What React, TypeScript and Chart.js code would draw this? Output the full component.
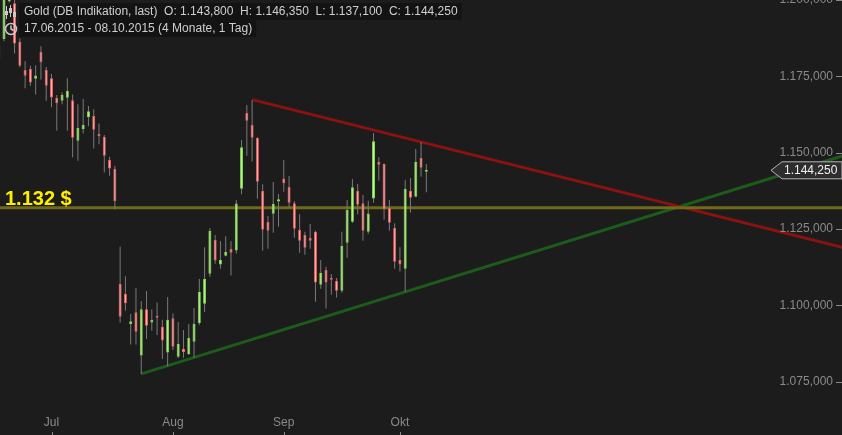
import React, { useEffect, useRef } from 'react';
import { Chart, registerables } from 'chart.js';

Chart.register(...registerables);

// ---- data (trading days 17.06.2015 - 08.10.2015) ----
const dates = [
  '17.06', '18.06', '19.06', '22.06', '23.06', '24.06', '25.06', '26.06', '29.06', '30.06',
  '01.07', '02.07', '03.07', '06.07', '07.07', '08.07', '09.07', '10.07', '13.07', '14.07',
  '15.07', '16.07', '17.07', '20.07', '21.07', '22.07', '23.07', '24.07', '27.07', '28.07',
  '29.07', '30.07', '31.07', '03.08', '04.08', '05.08', '06.08', '07.08', '10.08', '11.08',
  '12.08', '13.08', '14.08', '17.08', '18.08', '19.08', '20.08', '21.08', '24.08', '25.08',
  '26.08', '27.08', '28.08', '31.08', '01.09', '02.09', '03.09', '04.09', '07.09', '08.09',
  '09.09', '10.09', '11.09', '14.09', '15.09', '16.09', '17.09', '18.09', '21.09', '22.09',
  '23.09', '24.09', '25.09', '28.09', '29.09', '30.09', '01.10', '02.10', '05.10', '06.10',
  '07.10', '08.10',
];
const open = [
  1180.5, 1187.2, 1199.5, 1198.9, 1186.3, 1177.1, 1177.4, 1174.2, 1183.0, 1177.1,
  1174.4, 1168.0, 1167.0, 1168.0, 1167.2, 1153.9, 1157.8, 1161.6, 1162.0, 1156.0,
  1155.2, 1147.6, 1144.7, 1107.0, 1103.8, 1093.9, 1097.8, 1083.6, 1098.8, 1094.4,
  1096.5, 1093.0, 1084.6, 1095.8, 1083.2, 1085.8, 1084.1, 1088.1, 1094.3, 1100.6,
  1110.4, 1121.4, 1113.4, 1116.3, 1118.5, 1118.0, 1138.2, 1163.0, 1159.1, 1154.8,
  1137.5, 1127.3, 1130.0, 1134.0, 1141.6, 1138.8, 1133.5, 1124.7, 1123.1, 1122.1,
  1124.1, 1106.8, 1111.6, 1109.0, 1108.0, 1104.8, 1120.5, 1127.4, 1137.5, 1133.5,
  1124.1, 1135.0, 1147.0, 1146.3, 1131.9, 1125.4, 1114.9, 1112.0, 1137.5, 1135.6,
  1148.3, 1143.8,
];
const high = [
  1186.5, 1205.0, 1204.0, 1201.5, 1187.4, 1180.0, 1178.5, 1178.6, 1184.9, 1178.1,
  1175.8, 1168.9, 1169.8, 1174.4, 1169.1, 1165.9, 1167.6, 1165.3, 1164.2, 1159.6,
  1155.8, 1148.7, 1145.7, 1119.2, 1109.6, 1097.2, 1105.7, 1101.5, 1104.7, 1098.8,
  1101.0, 1095.3, 1102.8, 1097.4, 1094.6, 1092.0, 1093.9, 1099.2, 1108.7, 1119.1,
  1125.4, 1123.1, 1121.1, 1122.7, 1121.1, 1134.5, 1154.2, 1165.6, 1167.2, 1155.1,
  1139.7, 1129.3, 1140.4, 1136.5, 1147.6, 1142.4, 1134.2, 1129.9, 1124.1, 1126.7,
  1124.5, 1114.9, 1112.7, 1110.3, 1109.0, 1124.1, 1134.5, 1141.4, 1139.8, 1136.2,
  1134.3, 1156.5, 1148.6, 1146.5, 1134.5, 1126.9, 1119.1, 1141.1, 1141.7, 1151.2,
  1153.5, 1146.35,
];
const low = [
  1179.5, 1186.5, 1199.2, 1182.5, 1178.0, 1171.1, 1171.9, 1169.1, 1174.0, 1167.0,
  1164.9, 1157.2, 1165.9, 1157.2, 1148.5, 1147.4, 1156.3, 1158.7, 1151.4, 1152.8,
  1143.5, 1142.5, 1131.5, 1094.4, 1098.3, 1087.2, 1087.2, 1077.6, 1089.0, 1091.7,
  1090.3, 1082.5, 1080.0, 1085.4, 1082.8, 1082.9, 1083.8, 1082.9, 1093.6, 1097.9,
  1109.4, 1113.7, 1112.0, 1116.0, 1109.8, 1117.0, 1136.4, 1149.0, 1147.1, 1134.9,
  1117.9, 1118.6, 1123.8, 1125.8, 1137.2, 1132.1, 1122.2, 1117.3, 1116.6, 1118.6,
  1101.2, 1105.5, 1099.0, 1103.5, 1102.6, 1104.2, 1115.6, 1127.0, 1129.9, 1121.2,
  1123.5, 1133.6, 1140.8, 1128.1, 1124.5, 1112.0, 1111.1, 1104.5, 1130.4, 1135.4,
  1142.1, 1137.1,
];
const close = [
  1185.2, 1202.0, 1202.5, 1185.8, 1178.5, 1175.2, 1173.0, 1175.3, 1179.6, 1171.9,
  1168.1, 1166.2, 1168.9, 1170.3, 1154.9, 1158.1, 1159.1, 1163.6, 1157.5, 1155.5,
  1149.0, 1144.8, 1134.1, 1096.3, 1100.7, 1094.8, 1091.4, 1098.8, 1093.4, 1095.3,
  1096.0, 1088.5, 1095.3, 1086.5, 1087.4, 1084.8, 1089.4, 1094.0, 1104.4, 1108.7,
  1124.4, 1114.7, 1114.9, 1117.5, 1117.3, 1133.4, 1151.8, 1160.5, 1154.9, 1140.5,
  1124.8, 1124.5, 1133.2, 1134.8, 1140.0, 1133.6, 1125.1, 1121.2, 1118.9, 1121.2,
  1107.5, 1110.6, 1107.5, 1108.4, 1104.8, 1119.5, 1131.3, 1138.7, 1133.0, 1124.5,
  1130.1, 1153.8, 1146.1, 1131.5, 1127.1, 1114.3, 1113.4, 1138.1, 1135.3, 1147.0,
  1145.1, 1144.25,
];

const monthLabels = ['Jul', 'Aug', 'Sep', 'Okt'];
const monthIndex = [10, 33, 54, 76];
const yTickValues = [1075, 1100, 1125, 1150, 1175, 1200];

const supportLevel = 1132;
const supportLabel = '1.132 $';
const resistanceX = [48, 170];
const resistanceY = [1167.4, 1114.6];
const trendUpX = [27, 170];
const trendUpY = [1077.6, 1154.4];

const X_MIN = 0.244;
const X_MAX = 159.74;
const Y_MIN = 1057.6;
const Y_MAX = 1200.0;

const fmt = (v: number) => {
  const [i, d] = v.toFixed(3).split('.');
  return i.replace(/\B(?=(\d{3})+(?!\d))/g, '.') + ',' + d;
};

const FONT = "'Liberation Sans', Arial, sans-serif";

export default function App() {
  const ref = useRef<HTMLCanvasElement>(null);

  useEffect(() => {
    document.body.style.margin = '0';
    document.body.style.background = '#1c1c1c';
    const last = dates.length - 1;
    const up = dates.map((_, i) => close[i] >= open[i]);

    const overlay = {
      id: 'overlay',
      beforeDraw(chart: any) {
        const c = chart.ctx;
        c.save();
        c.fillStyle = '#1c1c1c';
        c.fillRect(0, 0, chart.width, chart.height);
        c.restore();
      },
      afterDraw(chart: any) {
        const c = chart.ctx;
        const xs = chart.scales.x;
        const ys = chart.scales.y;
        c.save();

        // support label
        const ySup = ys.getPixelForValue(supportLevel);
        c.font = `bold 20px ${FONT}`;
        c.fillStyle = '#ffee00';
        c.textAlign = 'left';
        c.textBaseline = 'alphabetic';
        c.fillText(supportLabel, 5, ySup - 3);

        // y tick labels (right side)
        c.font = `12px ${FONT}`;
        c.fillStyle = '#8a8a8a';
        c.strokeStyle = '#8a8a8a';
        c.lineWidth = 1;
        c.textAlign = 'right';
        c.textBaseline = 'middle';
        yTickValues.forEach((v) => {
          const y = ys.getPixelForValue(v);
          c.fillText(fmt(v), 833, y);
          c.beginPath();
          c.moveTo(836, Math.round(y) + 0.5);
          c.lineTo(842, Math.round(y) + 0.5);
          c.stroke();
        });

        // x month labels
        c.textAlign = 'center';
        monthLabels.forEach((m, k) => {
          const x = xs.getPixelForValue(monthIndex[k]);
          c.fillText(m, x, 423);
          c.beginPath();
          c.moveTo(Math.round(x) + 0.5, 432);
          c.lineTo(Math.round(x) + 0.5, 435);
          c.stroke();
        });

        // last price tag
        const yc = ys.getPixelForValue(close[last]);
        const h = 8.5;
        c.beginPath();
        c.moveTo(771, yc);
        c.lineTo(782, yc - h);
        c.lineTo(842, yc - h);
        c.lineTo(842, yc + h);
        c.lineTo(782, yc + h);
        c.closePath();
        c.fillStyle = '#2e2e2e';
        c.fill();
        c.strokeStyle = '#b5b5b5';
        c.stroke();
        c.fillStyle = '#f2f2f2';
        c.textAlign = 'left';
        c.fillText(fmt(close[last]), 784, yc + 0.5);

        // header
        c.font = `12px ${FONT}`;
        const line1 = `Gold (DB Indikation, last)  O: ${fmt(open[last])}  H: ${fmt(high[last])}  L: ${fmt(low[last])}  C: ${fmt(close[last])}`;
        const line2 = '17.06.2015 - 08.10.2015 (4 Monate, 1 Tag)';
        const w1 = c.measureText(line1).width;
        const w2 = c.measureText(line2).width;
        c.fillStyle = 'rgba(16,16,16,0.75)';
        c.fillRect(19, 3, w1 + 9, 17);
        c.fillRect(19, 20, w2 + 9, 17);
        c.fillStyle = '#cfcfcf';
        c.textAlign = 'left';
        c.textBaseline = 'middle';
        c.fillText(line1, 24, 12);
        c.fillText(line2, 24, 29);

        // candle icon
        c.strokeStyle = '#c8c8c8';
        c.fillStyle = '#c8c8c8';
        c.lineWidth = 1;
        [[6.5, 6, 19, 11, 15], [10.5, 5, 17, 8, 13], [14.5, 7, 19, 12, 17]].forEach(([x, t, b, bt, bb]) => {
          c.beginPath();
          c.moveTo(x, t);
          c.lineTo(x, b);
          c.stroke();
          c.fillRect(x - 1.5, bt, 3, bb - bt);
        });
        // clock icon
        c.lineWidth = 1.5;
        c.beginPath();
        c.arc(11, 29, 5.5, 0, Math.PI * 2);
        c.stroke();
        c.beginPath();
        c.moveTo(11, 25.5);
        c.lineTo(11, 29);
        c.lineTo(13.5, 30.5);
        c.stroke();

        c.restore();
      },
    };

    const chart = new Chart(ref.current as HTMLCanvasElement, {
      type: 'bar',
      data: {
        datasets: [
          {
            type: 'bar',
            label: 'body',
            data: dates.map((_, i) => ({ x: i, y: [open[i], close[i]] })) as any,
            backgroundColor: up.map((u) => (u ? '#c3f59c' : '#ffb3b3')),
            borderColor: up.map((u) => (u ? '#7ddc48' : '#f05c5c')),
            borderWidth: 1,
            borderSkipped: false,
            barThickness: 3,
            minBarLength: 2,
            grouped: false,
            inflateAmount: 0,
            order: 0,
          } as any,
          {
            type: 'bar',
            label: 'wick',
            data: dates.map((_, i) => ({ x: i, y: [low[i], high[i]] })) as any,
            backgroundColor: '#7a7a7a',
            borderWidth: 0,
            barThickness: 1,
            grouped: false,
            inflateAmount: 0,
            order: 1,
          } as any,
          {
            type: 'line',
            label: 'support',
            data: [{ x: -1, y: supportLevel }, { x: 170, y: supportLevel }],
            borderColor: '#6f6919',
            borderWidth: 3,
            pointRadius: 0,
            order: 2,
          } as any,
          {
            type: 'line',
            label: 'resistance',
            data: resistanceX.map((x, k) => ({ x, y: resistanceY[k] })),
            borderColor: '#8c1111',
            borderWidth: 3,
            pointRadius: 0,
            order: 2,
          } as any,
          {
            type: 'line',
            label: 'trend',
            data: trendUpX.map((x, k) => ({ x, y: trendUpY[k] })),
            borderColor: '#1b5c1b',
            borderWidth: 3,
            pointRadius: 0,
            order: 2,
          } as any,
        ],
      },
      options: {
        animation: false,
        responsive: false,
        maintainAspectRatio: false,
        devicePixelRatio: 1,
        layout: { padding: 0 },
        plugins: { legend: { display: false }, tooltip: { enabled: false } },
        events: [],
        scales: {
          x: { type: 'linear', min: X_MIN, max: X_MAX, display: false, offset: false },
          y: { type: 'linear', min: Y_MIN, max: Y_MAX, display: false },
        },
      } as any,
      plugins: [overlay],
    });
    return () => chart.destroy();
  }, []);

  return (
    <div style={{ position: 'absolute', left: 0, top: 0, width: 842, height: 435 }}>
      <canvas ref={ref} width={842} height={435} style={{ display: 'block', width: 842, height: 435 }} />
    </div>
  );
}
